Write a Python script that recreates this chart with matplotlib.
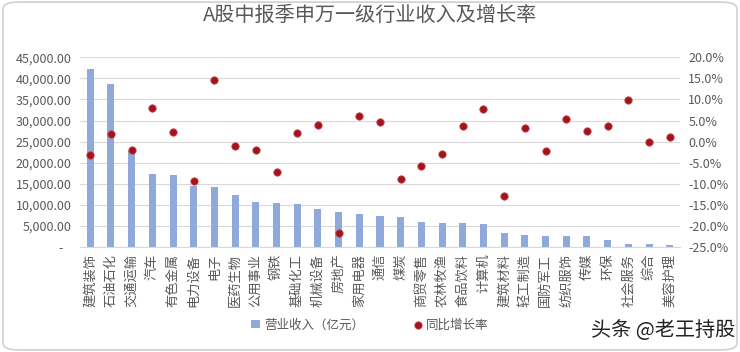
import matplotlib.pyplot as plt
from matplotlib.ticker import FuncFormatter, MultipleLocator
from matplotlib.patches import FancyBboxPatch

plt.rcParams['font.family'] = ['Noto Sans CJK SC', 'DejaVu Sans']

industries = ['建筑装饰', '石油石化', '交通运输', '汽车', '有色金属', '电力设备', '电子',
              '医药生物', '公用事业', '钢铁', '基础化工', '机械设备', '房地产', '家用电器',
              '通信', '煤炭', '商贸零售', '农林牧渔', '食品饮料', '计算机', '建筑材料',
              '轻工制造', '国防军工', '纺织服饰', '传媒', '环保', '社会服务', '综合', '美容护理']
revenue = [42150, 38650, 22700, 17270, 17030, 14420, 14190, 12200, 10620, 10460, 10140,
           8880, 8250, 7840, 7370, 7060, 5870, 5630, 5550, 5470, 3250, 2780, 2620, 2600,
           2540, 1590, 710, 700, 400]
growth = [-3.1, 1.9, -2.1, 8.0, 2.2, -9.3, 14.6, -1.1, -1.9, -7.2, 2.0, 4.0, -21.8, 6.1,
          4.7, -9.0, -5.7, -3.0, 3.7, 7.7, -12.9, 3.3, -2.3, 5.3, 2.5, 3.7, 9.9, -0.1, 1.1]

grey = '#595959'
fig = plt.figure(figsize=(7.4, 3.52), dpi=100)
ax = fig.add_axes([0.108, 0.299, 0.811, 0.538])
x = range(len(industries))
bars = ax.bar(x, revenue, width=0.34, color='#8FAADA', zorder=2, label='营业收入（亿元）')
ax.set_ylim(0, 45000)
ax.set_xlim(-0.5, len(industries) - 0.5)
ax.yaxis.set_major_locator(MultipleLocator(5000))
ax.yaxis.set_major_formatter(FuncFormatter(lambda v, p: '-   ' if v == 0 else f'{v:,.2f}'))
ax.grid(axis='y', color='#D9D9D9', linewidth=0.8, zorder=0)
ax.set_xticks(list(x))
ax.set_xticklabels(industries, rotation=90, fontsize=9.5, color=grey)
ax.tick_params(axis='x', length=0, pad=5)
ax.tick_params(axis='y', length=0, labelsize=9, labelcolor=grey, pad=6)
for s in ['top', 'right', 'left']:
    ax.spines[s].set_visible(False)
ax.spines['bottom'].set_color('#D9D9D9')

ax2 = ax.twinx()
dots = ax2.scatter(x, growth, s=28, color='#A3131C', edgecolors='#C0404A', linewidths=0.6,
                   zorder=3, label='同比增长率')
ax2.set_ylim(-25, 20)
ax2.yaxis.set_major_locator(MultipleLocator(5))
ax2.yaxis.set_major_formatter(FuncFormatter(lambda v, p: f'{v:.1f}%'))
ax2.tick_params(axis='y', length=0, labelsize=9, labelcolor=grey, pad=6)
for s in ax2.spines.values():
    s.set_visible(False)

fig.text(0.5, 0.955, 'A股中报季申万一级行业收入及增长率', ha='center', va='center',
         fontsize=14.5, color=grey)
fig.legend(handles=[bars, dots], loc='center', bbox_to_anchor=(0.5, 0.077), ncol=2,
           frameon=False, fontsize=9, labelcolor=grey, handlelength=0.7, handletextpad=0.3,
           columnspacing=4)
fig.text(0.993, 0.06, '头条 @老王持股', ha='right', va='center', fontsize=14.5, color='#222222')

fig.patches.append(FancyBboxPatch((0.004, 0.006), 0.992, 0.988, boxstyle='round,pad=0,rounding_size=0.02',
                                  transform=fig.transFigure, fill=False, edgecolor='#D0D0D0',
                                  linewidth=1.2))
plt.savefig('out.png', dpi=100)
